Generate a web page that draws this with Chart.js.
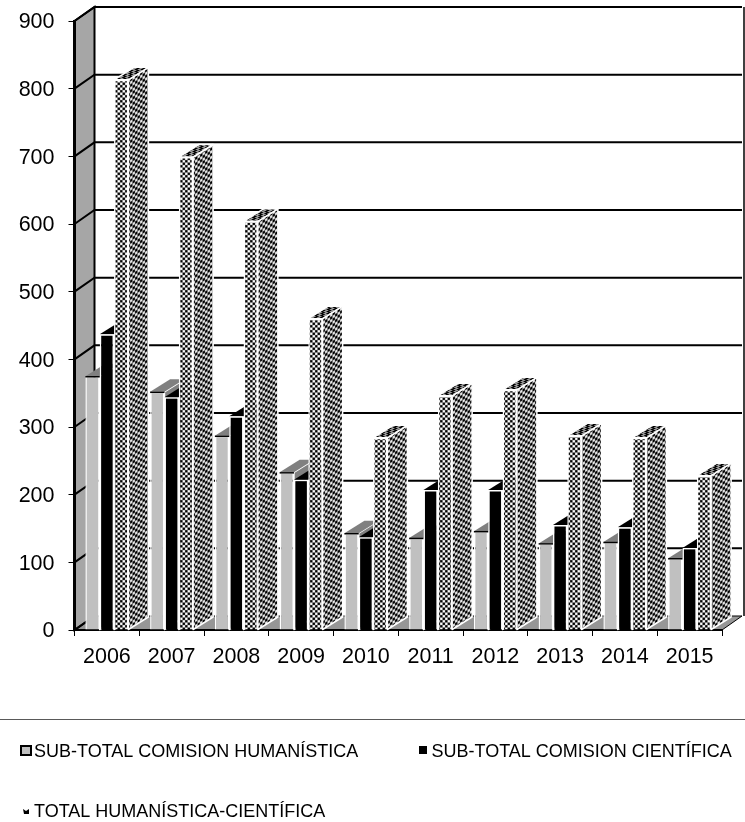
<!DOCTYPE html>
<html><head><meta charset="utf-8">
<style>html,body{margin:0;padding:0;background:#fff}canvas{display:block}</style>
<script src="https://cdn.jsdelivr.net/npm/chart.js@4"></script>
</head><body>
<canvas id="c" width="745" height="822"></canvas>
<script>
const years = ['2006','2007','2008','2009','2010','2011','2012','2013','2014','2015'];
const humanistica = [375,352,287,233,143,136,146,128,130,106];
const cientifica = [437,344,316,222,137,207,207,155,152,121];
const total = [813,699,604,460,284,346,355,287,284,228];
const seriesNames = ['SUB-TOTAL COMISION HUMANÍSTICA','SUB-TOTAL COMISION CIENTÍFICA','TOTAL HUMANÍSTICA-CIENTÍFICA'];
const yTicks = [0,100,200,300,400,500,600,700,800,900];

const FONT = '"Liberation Sans", Arial, sans-serif';
const WALL = {dx: 20, dy: -14};
const BAR = {dx: 20, dy: -12.5};
const ctx = document.getElementById('c').getContext('2d');

function tile(a, b) {
  const t = document.createElement('canvas'); t.width = t.height = 4;
  const g = t.getContext('2d');
  g.fillStyle = a; g.fillRect(0,0,4,4);
  g.fillStyle = b; g.fillRect(0,0,2,2); g.fillRect(2,2,2,2);
  return t;
}
function pattern(a, b, m) {
  const p = ctx.createPattern(tile(a,b), 'repeat');
  p.setTransform(new DOMMatrix(m));
  return p;
}
const frontPat = pattern('#ffffff','#000000',[1.25,0,0,1.25,0,0]);
const sidePat = pattern('#e8e8e8','#000000',[1.25,-0.75,0,1.4,0,0]);
const topPat = pattern('#9a9a9a','#000000',[1.5,0,-1.6,1.0,0,0]);

const faces = [
  {side:'#808080', top:'#808080'},
  {side:'#000000', top:'#000000'},
  {side:sidePat, top:topPat}
];

function poly(c, pts, fill, stroke, lw) {
  c.beginPath();
  pts.forEach((p,i)=> i ? c.lineTo(p[0],p[1]) : c.moveTo(p[0],p[1]));
  c.closePath();
  if (fill) { c.fillStyle = fill; c.fill(); }
  if (stroke) { c.strokeStyle = stroke; c.lineWidth = lw; c.stroke(); }
}

const walls = {
  id:'walls',
  beforeDraw(chart){
    const c = chart.ctx, {x, y} = chart.scales;
    const L = x.left, R = x.right, T = y.getPixelForValue(900), B = y.getPixelForValue(0);
    const bx = L+WALL.dx, dy = WALL.dy;
    y.getLabelItems().forEach(i=>{ i.options.translation[1] += 1.5; });
    x.getLabelItems();
    c.save();
    poly(c, [[L,B],[bx,B+dy],[R+WALL.dx,B+dy],[R,B]], '#969696', '#000', 1);
    poly(c, [[L,T],[bx,T+dy],[bx,B+dy],[L,B]], '#a6a6a6', '#000', 2);
    c.strokeStyle = '#000'; c.lineWidth = 2;
    yTicks.forEach(v=>{
      const py = y.getPixelForValue(v);
      c.beginPath();
      c.moveTo(L,py); c.lineTo(bx,py+dy);
      if (v>0) c.lineTo(R+WALL.dx,py+dy);
      c.stroke();
    });
    c.beginPath(); c.moveTo(744,T+dy); c.lineTo(744,B+dy); c.lineWidth=1.5; c.stroke();
    c.restore();
  },
  beforeDatasetsDraw(chart){
    const c = chart.ctx;
    c.save();
    c.lineJoin='round';
    faces.forEach((f,i)=>{
      chart.getDatasetMeta(i).data.forEach(el=>{
        const l = el.x-el.width/2, r = el.x+el.width/2, t = el.y, b = el.base;
        const d = BAR;
        poly(c, [[r,t],[r+d.dx,t+d.dy],[r+d.dx,b+d.dy],[r,b]], f.side, '#fff', 1.5);
        poly(c, [[l,t],[l+d.dx,t+d.dy],[r+d.dx,t+d.dy],[r,t]], f.top, i===2?'#fff':null, 1.5);
      });
    });
    c.restore();
  },
  afterDatasetsDraw(chart){
    const c=chart.ctx;
    c.save(); c.strokeStyle='#000'; c.lineWidth=1.5;
    chart.getDatasetMeta(0).data.forEach(el=>{
      c.beginPath(); c.moveTo(el.x-el.width/2,el.y+.5); c.lineTo(el.x+el.width/2,el.y+.5); c.stroke();
    });
    c.restore();
  },
  afterDraw(chart){
    const c = chart.ctx;
    c.save();
    c.fillStyle='#595959'; c.fillRect(0,719,745,1);
    c.font = '18px '+FONT; c.fillStyle='#000'; c.textBaseline='middle'; c.textAlign='left';
    poly(c,[[21,746],[31,746],[31,755],[21,755]],'#c0c0c0','#000',2);
    c.fillStyle='#000'; c.fillText(seriesNames[0],34,752);
    c.fillRect(419,746,8,8);
    c.fillText(seriesNames[1],431.5,752);
    poly(c,[[23,809],[26,811],[29,809],[29,814],[24,814]],'#000',null,0);
    c.fillStyle='#000'; c.fillText(seriesNames[2],34,812.5);
    c.restore();
  }
};

new Chart(ctx,{
  type:'bar',
  data:{labels:years,datasets:[
    {label:seriesNames[0],data:humanistica,backgroundColor:'#c0c0c0',borderColor:'#fff',borderWidth:1.5},
    {label:seriesNames[1],data:cientifica,backgroundColor:'#000',borderColor:'#fff',borderWidth:1.5},
    {label:seriesNames[2],data:total,backgroundColor:frontPat,borderColor:'#fff',borderWidth:1.5}
  ]},
  plugins:[walls],
  options:{
    responsive:false,animation:false,
    layout:{padding:{top:21,right:23,left:0,bottom:0}},
    datasets:{bar:{categoryPercentage:0.664,barPercentage:1}},
    plugins:{legend:{display:false},title:{display:false},tooltip:{enabled:false}},
    scales:{
      x:{
        afterFit(s){s.height=192;s.paddingLeft=0;s.paddingRight=0;},
        grid:{drawOnChartArea:false,drawTicks:true,tickLength:6,color:'#000',lineWidth:1,offset:true},
        border:{display:true,color:'#000',width:2},
        ticks:{font:{family:FONT,size:21.5},color:'#000',padding:8,maxRotation:0}
      },
      y:{
        min:0,max:900,
        afterFit(s){s.width=74.5;s.paddingTop=0;s.paddingBottom=0;},
        afterBuildTicks(s){s.ticks=yTicks.map(v=>({value:v}));},
        grid:{drawOnChartArea:false,drawTicks:true,tickLength:6,color:'#000',lineWidth:1},
        border:{display:true,color:'#000',width:3},
        ticks:{font:{family:FONT,size:21.5},color:'#000',padding:14}
      }
    }
  }
});
</script>
</body></html>
